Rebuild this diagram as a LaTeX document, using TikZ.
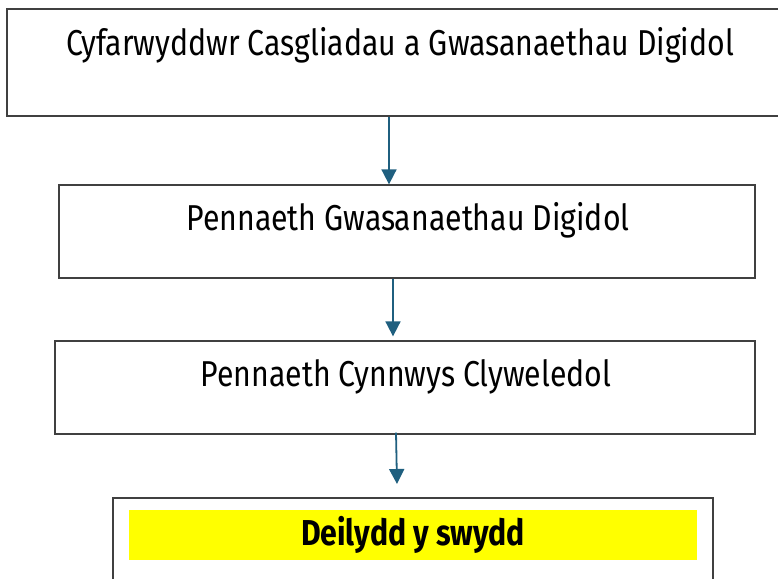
\documentclass[tikz,border=0pt]{standalone}
\usepackage{fontspec}
\setmainfont{Fira Sans}[FakeStretch=0.84]
\usetikzlibrary{arrows.meta}
\definecolor{arrowblue}{HTML}{1F5F7F}
\definecolor{boxgray}{HTML}{404040}
\definecolor{hlyellow}{HTML}{FFFF00}
\tikzstyle{box}=[draw=boxgray,line width=1.3pt,inner sep=0pt]
\tikzstyle{lbl}=[inner sep=0pt,font=\fontsize{36}{40}\selectfont]
\tikzstyle{arr}=[draw=arrowblue,line width=1.8pt,-{Triangle[length=15pt,width=15pt]}]

\begin{document}
\begin{tikzpicture}[x=1pt,y=-1pt]
\useasboundingbox (0,0) rectangle (778,578);
\clip (0,0) rectangle (778,578);
% boxes
\node[box,minimum width=783,minimum height=107] (dir) at (398.5,62.5) {};
\node[box,minimum width=696,minimum height=93] (pen) at (407,231.5) {};
\node[box,minimum width=700,minimum height=93] (cyn) at (405,387.5) {};
\node[box,minimum width=600,minimum height=110] (dei) at (413,553) {};
\node[fill=hlyellow,inner sep=0pt,minimum width=568,minimum height=50] (hl) at (413,535) {};
% texts
\node[lbl] (tdir) at (400,45) {Cyfarwyddwr Casgliadau a Gwasanaethau Digidol};
\node[lbl] (tpen) at (408,220) {Pennaeth Gwasanaethau Digidol};
\node[lbl] (tcyn) at (406,377) {Pennaeth Cynnwys Clyweledol};
\node[lbl,font=\fontsize{36}{40}\selectfont\bfseries] (tdei) at (hl) {Deilydd y swydd};
% arrows
\draw[arr] (dir.south -| 389,0) -- (pen.north -| 389,0);
\draw[arr] (pen.south -| 393,0) -- ([yshift=4]cyn.north -| 393,0);
\coordinate (tip) at (397,484);
\draw[arr] ([yshift=2]cyn.south -| 396,0) -- (tip);
\end{tikzpicture}
\end{document}
